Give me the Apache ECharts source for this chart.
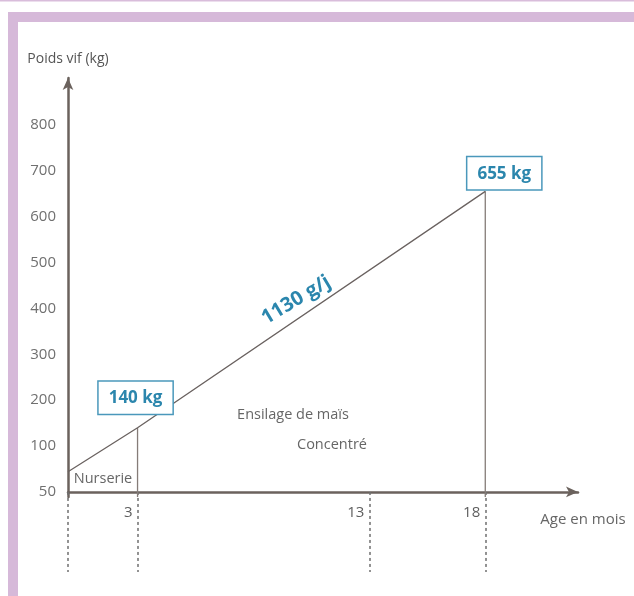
<!DOCTYPE html>
<html>
<head>
<meta charset="utf-8">
<script src="https://cdn.jsdelivr.net/npm/echarts@6/dist/echarts.min.js"></script>
<style>html,body{margin:0;padding:0;background:#fff}#c{width:634px;height:596px}</style>
</head>
<body>
<div id="c"></div>
<script>
// ---- data ----
var months = [0, 3, 18];            // age in months
var weights = [72, 140, 655];       // live weight (kg)
var boxLabels = ['', '140 kg', '655 kg'];
var yTickLabels = [50, 100, 200, 300, 400, 500, 600, 700, 800];
var xTickLabels = [3, 13, 18];
var dashedMonths = [0, 3, 13, 18];
var gainLabel = '1130 g/j';

// broken y scale: 50 -> 0, 100 -> 1, 200 -> 2 ...
function toAxis(v) { return v < 100 ? (v - 50) / 50 : v / 100; }
function fromAxis(p) { return p < 1 ? 50 + p * 50 : p * 100; }

var Y_MIN = -0.11, Y_MAX = 9.02;
var FONT = '"Open Sans", "DejaVu Sans", sans-serif';
var GREY = '#6b625d';
var BLUE = '#2b86ad';

var lineData = months.map(function (m, i) { return [m, toAxis(weights[i])]; });

var boxPoints = [];
months.forEach(function (m, i) {
  if (!boxLabels[i]) return;
  boxPoints.push({
    coord: [m, toAxis(weights[i])], value: 0,
    label: {
      show: true, formatter: boxLabels[i], position: 'top',
      distance: i === 1 ? 14 : 2, offset: i === 1 ? [-2, 0] : [19, 0],
      color: BLUE, fontWeight: 'bold', fontSize: 17, fontFamily: FONT,
      borderColor: '#4a98bb', borderWidth: 1.5, padding: [8, 10, 7, 10],
      backgroundColor: '#fff'
    }
  });
});

var verticals = [1, 2].map(function (i) {
  return {
    type: 'line', silent: true, showSymbol: false, symbol: 'none',
    lineStyle: { color: '#857c78', width: 1.3 },
    data: [[months[i], Y_MIN], [months[i], toAxis(weights[i])]], z: 2
  };
});

var chart = echarts.init(document.getElementById('c'), null, { renderer: 'canvas' });
chart.setOption({
  animation: false,
  backgroundColor: '#fff',
  grid: { left: 68, right: 56, top: 78, bottom: 99, outerBoundsMode: 'none', containLabel: false },
  xAxis: {
    type: 'value', min: 0, max: 22,
    axisLine: { show: true, symbol: ['none', 'arrow'], symbolSize: [8, 12], lineStyle: { color: GREY, width: 2.5 } },
    axisTick: { show: true, customValues: dashedMonths, inside: false, length: 80,
      lineStyle: { color: '#6f6f6f', width: 1.5, type: [3, 3] } },
    axisLabel: { show: true, customValues: xTickLabels, align: 'right', margin: 8, padding: [0, 5, 0, 0],
      color: '#5e5e5e', fontSize: 15, fontFamily: FONT },
    splitLine: { show: false }
  },
  yAxis: {
    type: 'value', min: Y_MIN, max: Y_MAX,
    name: 'Poids vif (kg)', nameLocation: 'end', nameGap: 12,
    nameTextStyle: { color: '#555', fontSize: 14, fontFamily: FONT },
    axisLine: { show: true, symbol: ['none', 'arrow'], symbolSize: [8, 12], lineStyle: { color: GREY, width: 2.5 } },
    axisTick: { show: false },
    axisLabel: { show: true, customValues: yTickLabels.map(toAxis), margin: 12,
      formatter: function (p) { return String(Math.round(fromAxis(p))); },
      color: '#707070', fontSize: 15, fontFamily: FONT },
    splitLine: { show: false }
  },
  series: [{
    type: 'line', silent: true, showSymbol: false, symbol: 'none',
    lineStyle: { color: '#6a6260', width: 1.3 },
    data: lineData, z: 3,
    markPoint: {
      symbol: 'circle', symbolSize: 0, silent: true,
      data: [{
        coord: [9.84, 4.18], value: 0,
        label: { show: true, formatter: gainLabel, position: 'inside', rotate: 31,
          color: BLUE, fontWeight: 'bold', fontSize: 20, fontFamily: FONT }
      }].concat(boxPoints)
    }
  }].concat(verticals),
  graphic: [
    { type: 'rect', shape: { x: 0, y: 0, width: 634, height: 1.5 }, style: { fill: '#d9bddb' }, silent: true },
    { type: 'rect', shape: { x: 8, y: 12, width: 626, height: 10 }, style: { fill: '#d6b9d9' }, silent: true },
    { type: 'rect', shape: { x: 8, y: 12, width: 10, height: 584 }, style: { fill: '#d6b9d9' }, silent: true },
    { type: 'text', x: 293, y: 415, style: { text: 'Ensilage de maïs', fill: '#666', fontSize: 14.5, fontFamily: FONT, align: 'center', verticalAlign: 'middle' } },
    { type: 'text', x: 332, y: 445, style: { text: 'Concentré', fill: '#666', fontSize: 14.5, fontFamily: FONT, align: 'center', verticalAlign: 'middle' } },
    { type: 'text', x: 103, y: 479, style: { text: 'Nurserie', fill: '#666', fontSize: 14.5, fontFamily: FONT, align: 'center', verticalAlign: 'middle' } },
    { type: 'text', x: 583, y: 520, style: { text: 'Age en mois', fill: '#666', fontSize: 15, fontFamily: FONT, align: 'center', verticalAlign: 'middle' } }
  ]
});
</script>
</body>
</html>
